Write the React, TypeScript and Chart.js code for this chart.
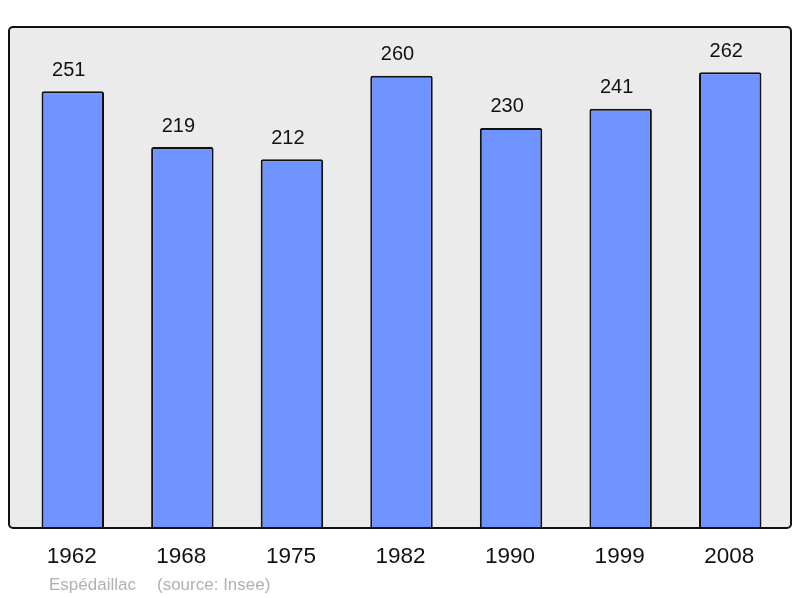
import React, { useEffect, useRef } from "react";
import { Chart, registerables } from "chart.js";

Chart.register(...registerables);

const years = ["1962", "1968", "1975", "1982", "1990", "1999", "2008"];
const population = [251, 219, 212, 260, 230, 241, 262];
const commune = "Espédaillac";
const source = "(source: Insee)";

const FONT = "'Liberation Sans', Arial, sans-serif";

const decor = {
  id: "decor",
  beforeDatasetsDraw(chart: any) {
    const ctx = chart.ctx;
    ctx.save();
    ctx.beginPath();
    ctx.roundRect(9, 27, 782, 501, 4);
    ctx.fillStyle = "#ebebeb";
    ctx.fill();
    ctx.restore();
  },
  afterDatasetsDraw(chart: any) {
    const ctx = chart.ctx;
    ctx.save();
    ctx.beginPath();
    ctx.roundRect(9, 27, 782, 501, 4);
    ctx.lineWidth = 2;
    ctx.strokeStyle = "#111";
    ctx.stroke();
    const meta = chart.getDatasetMeta(0);
    ctx.fillStyle = "#111";
    ctx.textAlign = "center";
    ctx.textBaseline = "middle";
    meta.data.forEach((bar: any, i: number) => {
      ctx.font = `20px ${FONT}`;
      ctx.fillText(String(population[i]), bar.x - 4, bar.y - 21);
      ctx.font = `22.5px ${FONT}`;
      ctx.fillText(years[i], bar.x - 1, 557);
    });
    ctx.textAlign = "left";
    ctx.font = `17px ${FONT}`;
    ctx.fillStyle = "#b0b0b0";
    ctx.fillText(commune, 49, 585);
    ctx.fillText(source, 157, 585);
    ctx.restore();
  },
};

export default function App() {
  const ref = useRef<HTMLCanvasElement>(null);
  useEffect(() => {
    const chart = new Chart(ref.current!, {
      type: "bar",
      data: {
        labels: years,
        datasets: [
          {
            data: population,
            backgroundColor: "#7094ff",
            borderColor: "#111",
            borderWidth: 2,
            borderRadius: 2,
            borderSkipped: "bottom",
            barPercentage: 0.57,
            categoryPercentage: 1,
          },
        ],
      },
      options: {
        animation: false,
        responsive: false,
        layout: { padding: { left: 18, right: 15, top: 27, bottom: 70 } },
        plugins: { legend: { display: false }, tooltip: { enabled: false } },
        scales: {
          x: { display: false },
          y: { display: false, min: 0, max: 288 },
        },
      },
      plugins: [decor],
    });
    return () => chart.destroy();
  }, []);
  return (
    <div style={{ position: "fixed", left: 0, top: 0, width: 800, height: 598, background: "#fff" }}>
      <canvas ref={ref} width={800} height={598} style={{ width: 800, height: 598 }} />
    </div>
  );
}
